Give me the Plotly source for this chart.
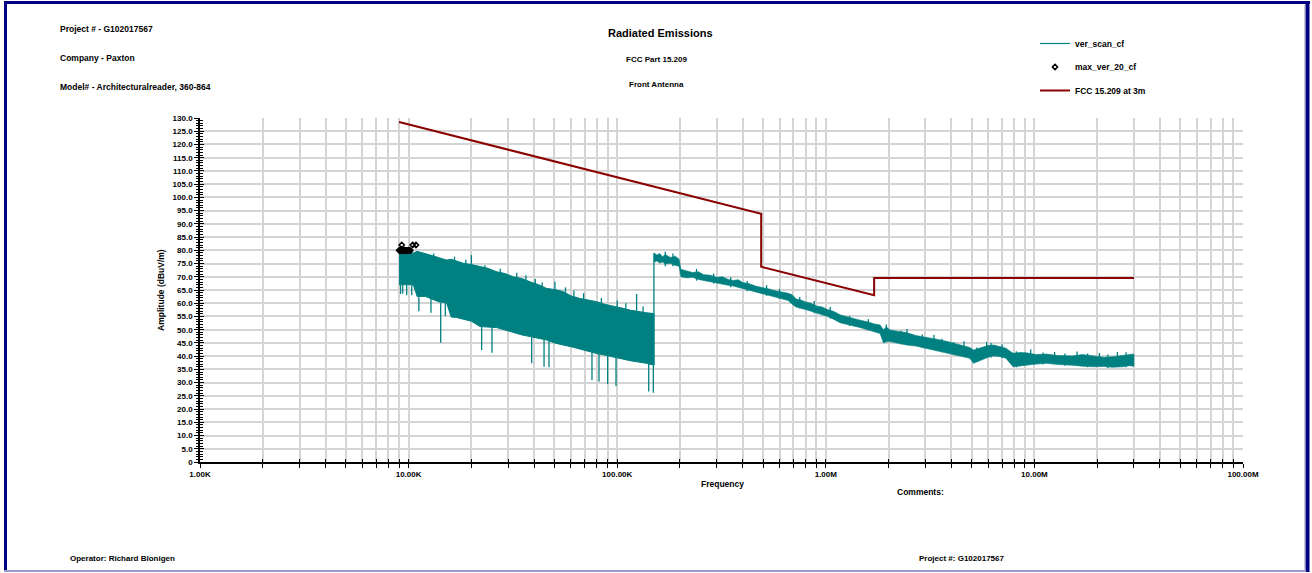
import plotly.graph_objects as go

# ---------------- data ----------------
# Band of the vertical scan, 9 kHz - 150 kHz (top / bottom envelope, dBuV/m)
band1_freq = [9.0e3, 9.5e3, 10.2e3, 10.55e3, 11.0e3, 12.0e3, 12.7e3, 14.0e3, 15.2e3, 16.0e3,
              17.0e3, 18.3e3, 20.0e3, 22.0e3, 24.0e3, 26.45e3, 29.0e3, 31.8e3, 35.0e3, 38.2e3,
              42.0e3, 45.9e3, 50.0e3, 55.1e3, 60.0e3, 66.3e3, 72.0e3, 79.7e3, 87.0e3, 95.8e3,
              105e3, 115e3, 125e3, 138e3, 150e3]
band1_top = [79.8, 79.6, 79.3, 79.0, 79.6, 78.9, 78.2, 77.2, 76.3, 76.6,
             75.8, 75.1, 74.6, 73.8, 73.2, 71.9, 71.2, 70.0, 69.3, 68.1,
             67.0, 65.6, 65.2, 64.4, 62.8, 61.8, 61.2, 60.6, 59.6, 59.0,
             58.2, 57.4, 56.9, 56.4, 56.1]
band1_bot = [67.0, 67.0, 67.0, 66.8, 62.5, 62.6, 61.8, 60.5, 60.2, 54.8,
             54.6, 54.0, 53.2, 51.2, 51.0, 50.8, 50.0, 49.0, 48.0, 47.4,
             46.6, 46.1, 45.0, 44.2, 43.6, 42.9, 42.0, 41.0, 40.4, 39.8,
             39.0, 38.3, 37.8, 37.3, 36.6]

# Band of the vertical scan, 150 kHz - 30 MHz
band2_freq = [150e3, 155e3, 160e3, 165e3, 170e3, 180e3, 190e3, 198e3, 202e3, 215e3,
              230e3, 245e3, 260e3, 280e3, 300e3, 320e3, 340e3, 360e3, 380e3, 400e3,
              430e3, 460e3, 500e3, 540e3, 580e3, 620e3, 660e3, 690e3, 720e3, 760e3,
              800e3, 850e3, 900e3, 960e3, 1.02e6, 1.1e6, 1.17e6, 1.25e6, 1.35e6, 1.46e6,
              1.58e6, 1.7e6, 1.82e6, 1.89e6, 1.95e6, 2.03e6, 2.2e6, 2.44e6, 2.7e6, 3.06e6,
              3.4e6, 3.83e6, 4.3e6, 4.9e6, 5.1e6, 5.4e6, 5.69e6, 6.0e6, 6.4e6, 6.9e6,
              7.3e6, 7.9e6, 8.5e6, 9.1e6, 10.2e6, 11.4e6, 13.0e6, 15.2e6, 17.0e6, 19.2e6,
              21.5e6, 23.7e6, 26.5e6, 28.5e6, 30e6]
band2_top = [79.0, 78.2, 78.8, 77.6, 78.4, 77.3, 77.8, 76.6, 72.8, 72.1,
             71.6, 71.9, 70.8, 70.6, 69.8, 70.0, 69.0, 68.6, 68.9, 67.8,
             67.4, 66.5, 66.0, 65.3, 64.6, 64.2, 63.8, 63.2, 61.6, 61.2,
             60.5, 60.0, 59.0, 58.6, 57.6, 56.8, 55.6, 55.0, 54.2, 53.6,
             53.0, 52.2, 51.8, 50.0, 51.0, 49.9, 49.4, 48.9, 47.8, 47.1,
             46.4, 45.5, 44.4, 43.3, 42.3, 42.8, 43.3, 44.0, 44.2, 43.6,
             43.0, 41.1, 41.4, 41.3, 40.6, 40.8, 40.2, 40.1, 40.6, 40.1,
             39.6, 39.8, 40.3, 40.6, 40.8]
band2_bot = [75.5, 76.0, 75.2, 75.6, 74.8, 75.0, 74.3, 74.0, 70.0, 69.6,
             69.8, 69.0, 68.6, 68.2, 67.6, 67.2, 66.8, 66.5, 66.0, 65.4,
             65.0, 64.3, 63.6, 62.8, 62.2, 61.6, 61.0, 59.6, 58.6, 58.2,
             57.6, 57.0, 56.2, 55.6, 55.0, 53.8, 52.6, 52.0, 51.4, 50.8,
             50.0, 49.4, 48.6, 45.0, 45.4, 45.5, 45.0, 44.2, 43.8, 43.0,
             42.2, 41.1, 40.2, 39.2, 37.3, 38.2, 38.8, 39.6, 40.1, 39.8,
             39.2, 36.0, 36.4, 36.6, 37.0, 37.3, 36.8, 36.6, 36.2, 36.0,
             36.1, 35.8, 36.0, 36.4, 36.2]

# Isolated spikes of the scan (frequency, low end, high end)
spike_freq = [9.15e3, 9.37e3, 9.79e3, 10.35e3, 11.2e3, 12.8e3, 14.25e3, 15.0e3, 20.0e3, 22.4e3,
              25.1e3, 29.3e3, 38.9e3, 43.7e3, 44.6e3, 47.1e3, 50.3e3, 75.7e3, 81.8e3, 90.0e3,
              98.7e3, 123.9e3, 141.6e3, 149e3, 150e3,
              13.2e3, 16.6e3, 18.8e3, 23.2e3, 27.5e3, 33.0e3, 36.5e3, 40.5e3, 56.5e3, 62.0e3,
              69.0e3, 84.0e3, 100e3, 110e3, 133e3,
              170e3, 185e3, 240e3, 290e3, 350e3, 420e3, 520e3, 600e3, 750e3, 880e3,
              1.05e6, 1.3e6, 1.6e6, 1.95e6, 2.3e6, 2.45e6, 2.9e6, 3.3e6, 3.6e6, 4.1e6,
              4.6e6, 5.3e6, 5.9e6, 6.2e6, 7.0e6, 8.2e6, 9.6e6, 11e6, 12.5e6, 14e6,
              16.0e6, 18e6, 20.5e6, 22.5e6, 25.0e6, 27.5e6]
spike_low = [63.5, 63.7, 63.0, 63.0, 57.0, 56.4, 45.1, 55.2, 70.0, 42.3,
             41.3, 49.9, 37.3, 60.0, 36.0, 35.8, 60.0, 31.0, 30.4, 29.5,
             28.7, 37.9, 26.6, 26.2, 36.6,
             77.0, 75.0, 74.0, 72.0, 70.5, 69.0, 68.0, 67.0, 63.5, 62.0,
             61.0, 59.5, 58.5, 57.5, 56.5,
             74.0, 74.0, 68.5, 67.5, 66.0, 64.5, 62.8, 61.6, 58.0, 56.2,
             54.2, 51.4, 49.8, 48.0, 44.5, 46.0, 43.2, 44.0, 41.5, 40.5,
             41.0, 37.8, 41.0, 39.5, 39.3, 35.8, 39.0, 36.8, 38.0, 36.4,
             38.0, 35.8, 37.5, 35.5, 37.5, 35.8]
spike_high = [67.0, 67.0, 67.0, 66.8, 62.5, 61.8, 60.2, 60.2, 78.2, 51.2,
              51.0, 50.0, 47.4, 67.8, 46.1, 46.0, 68.1, 42.9, 42.0, 40.4,
              39.8, 63.5, 37.3, 36.6, 79.0,
              78.8, 77.6, 76.4, 74.4, 73.0, 71.5, 70.6, 69.2, 66.0, 64.8,
              63.8, 62.0, 61.0, 60.0, 58.8,
              79.5, 78.8, 73.0, 71.2, 69.8, 68.4, 66.8, 65.4, 62.4, 60.8,
              58.6, 55.2, 54.0, 52.0, 49.6, 50.3, 48.2, 48.0, 46.6, 45.3,
              45.6, 43.3, 45.4, 45.0, 44.4, 41.8, 42.6, 41.4, 41.6, 41.0,
              41.8, 41.0, 41.2, 40.6, 41.6, 41.5]

# max_ver_20_cf points
max_freq = [9.0e3, 9.07e3, 9.14e3, 9.21e3, 9.27e3, 9.35e3, 9.42e3, 9.5e3, 9.58e3, 9.66e3,
            9.75e3, 9.84e3, 9.93e3, 10.0e3, 10.1e3, 10.2e3, 9.27e3, 10.46e3, 10.85e3, 9.6e3]
max_amp = [80.0, 79.9, 80.0, 80.1, 79.9, 80.0, 80.0, 79.9, 80.1, 80.0,
           80.0, 79.9, 80.0, 80.1, 80.0, 79.9, 82.0, 82.0, 82.0, 80.0]

# FCC 15.209 limit at 3 m
limit_freq = [9.0e3, 490e3, 490e3, 1.705e6, 1.705e6, 30e6]
limit_amp = [128.5, 93.8, 73.8, 63.0, 69.5, 69.5]

# axis ticks
y_tickvals = [v * 5 for v in range(27)]
y_ticktext = ["0"] + ["%.1f" % (v * 5) for v in range(1, 27)]
x_decades = [1e3, 1e4, 1e5, 1e6, 1e7, 1e8]
x_decade_labels = ["1.00K", "10.00K", "100.00K", "1.00M", "10.00M", "100.00M"]

TEAL = "#008080"
RED = "#8B0000"
FONT = "Liberation Sans, Arial, sans-serif"

# ---------------- geometry helpers (pixel -> paper) ----------------
W, H = 1312, 573
L, R, T, B = 200, 1243, 118, 462


def px(x):
    return (x - L) / (R - L)


def py(y):
    return (B - y) / (B - T)


# log-axis tick positions (grid at every 1..9 x decade)
x_tickvals, x_ticktext = [], []
for d, lab in zip(x_decades, x_decade_labels):
    x_tickvals.append(d)
    x_ticktext.append(lab)
    if d < 1e8:
        for m in range(2, 10):
            x_tickvals.append(d * m)
            x_ticktext.append("")

fig = go.Figure()

# scan bands
fig.add_trace(go.Scatter(
    x=band1_freq + band1_freq[::-1], y=band1_top + band1_bot[::-1],
    fill="toself", fillcolor=TEAL, mode="lines", line=dict(color=TEAL, width=1),
    showlegend=False, hoverinfo="skip"))
fig.add_trace(go.Scatter(
    x=band2_freq + band2_freq[::-1], y=band2_top + band2_bot[::-1],
    fill="toself", fillcolor=TEAL, mode="lines", line=dict(color=TEAL, width=0.6),
    showlegend=False, hoverinfo="skip"))

sx, sy = [], []
for f, lo, hi in zip(spike_freq, spike_low, spike_high):
    sx += [f, f, None]
    sy += [lo, hi, None]
fig.add_trace(go.Scatter(x=sx, y=sy, mode="lines", line=dict(color=TEAL, width=1.3),
                         showlegend=False, hoverinfo="skip"))

# legend entries
fig.add_trace(go.Scatter(x=[None], y=[None], mode="lines", name="ver_scan_cf",
                         line=dict(color=TEAL, width=1.2), legendgroup="a"))
fig.add_trace(go.Scatter(x=max_freq, y=max_amp, mode="markers", name="max_ver_20_cf",
                         marker=dict(symbol="diamond-open", size=4, color="black",
                                     line=dict(width=1.5, color="black")),
                         legendgroup="b"))
fig.add_trace(go.Scatter(x=limit_freq, y=limit_amp, mode="lines", name="FCC 15.209 at 3m",
                         line=dict(color=RED, width=2), legendgroup="c"))

tickfont = dict(family=FONT, size=8, color="black", weight="bold")

fig.update_layout(
    width=W, height=H, autosize=False,
    margin=dict(l=L, r=W - R, t=T, b=H - B, pad=0),
    paper_bgcolor="white", plot_bgcolor="white",
    font=dict(family=FONT, size=8, color="black", weight="bold"),
    xaxis=dict(type="log", range=[3, 8], tickmode="array", tickvals=x_tickvals,
               ticktext=x_ticktext, ticks="outside", ticklen=4, tickwidth=1, tickcolor="black",
               showgrid=True, gridcolor="#d4d4d4", gridwidth=1.5,
               showline=True, linecolor="black", linewidth=1.5, zeroline=False,
               tickfont=tickfont, tickangle=0),
    yaxis=dict(range=[0, 130], tickmode="array", tickvals=y_tickvals, ticktext=y_ticktext,
               ticks="outside", ticklen=4, tickwidth=1, tickcolor="black",
               minor=dict(dtick=1, ticks="outside", ticklen=2.5, tickwidth=1,
                          tickcolor="black", showgrid=False),
               showgrid=True, gridcolor="#d4d4d4", gridwidth=1.5,
               showline=True, linecolor="black", linewidth=1.5, zeroline=False,
               tickfont=tickfont),
    xaxis2=dict(type="log", range=[3, 8], overlaying="x", anchor="y", side="bottom",
                tickmode="array", tickvals=x_tickvals, ticks="inside", ticklen=3,
                tickcolor="black", showticklabels=False, showgrid=False, showline=False,
                zeroline=False),
    yaxis2=dict(range=[0, 130], overlaying="y", anchor="x", side="left",
                tickmode="array", tickvals=y_tickvals, ticks="inside", ticklen=4,
                tickcolor="black", showticklabels=False, showgrid=False, showline=False,
                zeroline=False,
                minor=dict(dtick=1, ticks="inside", ticklen=2.5, tickcolor="black",
                           showgrid=False)),
    legend=dict(x=px(1035), y=py(29), xanchor="left", yanchor="top",
                bgcolor="rgba(0,0,0,0)", font=dict(size=8.5), itemwidth=30,
                traceorder="grouped", tracegroupgap=4.5),
    showlegend=True,
)

# dummy trace so the overlay axes are drawn
fig.add_trace(go.Scatter(x=[None], y=[None], xaxis="x2", yaxis="y2", showlegend=False,
                         hoverinfo="skip"))

ann = []


def add_text(x, y, text, size=8.5, xanchor="left", angle=0):
    ann.append(dict(x=px(x), y=py(y), xref="paper", yref="paper", text=text,
                    showarrow=False, xanchor=xanchor, yanchor="middle", textangle=angle,
                    font=dict(size=size, color="black", weight="bold", family=FONT)))


add_text(58, 29, "Project # - G102017567")
add_text(58, 58, "Company - Paxton")
add_text(58, 87, "Model# - Architecturalreader, 360-864")
add_text(660, 33, "Radiated Emissions", size=11, xanchor="center")
add_text(656, 60, "FCC Part 15.209", size=8, xanchor="center")
add_text(656, 84, "Front Antenna", size=8, xanchor="center")
add_text(722, 484, "Frequency", size=8.5, xanchor="center")
add_text(920, 492, "Comments:", size=8.5, xanchor="center")
add_text(161, 290, "Amplitude (dBuV/m)", size=8.5, xanchor="center", angle=-90)
add_text(68, 558, "Operator: Richard Blonigen", size=8)
add_text(917, 558, "Project #: G102017567", size=8)
fig.update_layout(annotations=ann)

# page frame
shapes = [
    dict(type="line", xref="paper", yref="paper", x0=px(5.5), x1=px(5.5), y0=py(2), y1=py(571),
         line=dict(color="#000080", width=3)),
    dict(type="line", xref="paper", yref="paper", x0=px(4), x1=px(1310), y0=py(2.5), y1=py(2.5),
         line=dict(color="#000080", width=3)),
    dict(type="line", xref="paper", yref="paper", x0=px(1307.5), x1=px(1307.5), y0=py(1), y1=py(572),
         line=dict(color="#000080", width=4)),
    dict(type="line", xref="paper", yref="paper", x0=px(1304.5), x1=px(1304.5), y0=py(5), y1=py(570),
         line=dict(color="#c8c8d8", width=1)),
    dict(type="line", xref="paper", yref="paper", x0=px(4), x1=px(1306), y0=py(571), y1=py(571),
         line=dict(color="#9a9ad0", width=2)),
]
fig.update_layout(shapes=shapes)

fig.write_html("out.html", config={"displayModeBar": False},
               post_script="document.body.style.margin='0';document.body.style.overflow='hidden';")
